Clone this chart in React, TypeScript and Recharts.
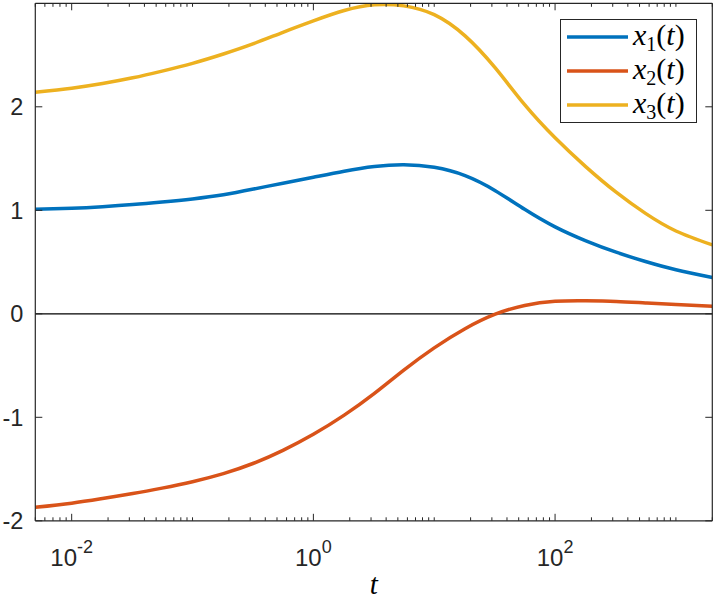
import React from 'react';
import { LineChart, Line, XAxis, YAxis, ReferenceLine, Legend } from 'recharts';

// sample times (about 4 per decade) and the three state curves
const tValues = [0.005, 0.01, 0.018, 0.032, 0.056, 0.1, 0.18, 0.32, 0.56, 1, 1.8, 3.2, 5.6, 10, 18, 32, 56, 100, 180, 320, 560, 1000, 2000];
const x1Values = [1.01, 1.02, 1.035, 1.055, 1.08, 1.11, 1.15, 1.205, 1.262, 1.32, 1.378, 1.423, 1.44, 1.415, 1.335, 1.19, 1.01, 0.84, 0.705, 0.595, 0.505, 0.425, 0.35];
const x2Values = [-1.87, -1.83, -1.785, -1.737, -1.684, -1.622, -1.544, -1.444, -1.319, -1.164, -0.979, -0.769, -0.544, -0.329, -0.144, -0.004, 0.081, 0.121, 0.126, 0.12, 0.105, 0.09, 0.073];
const x3Values = [2.14, 2.18, 2.225, 2.28, 2.345, 2.42, 2.51, 2.61, 2.72, 2.83, 2.93, 2.985, 2.975, 2.89, 2.685, 2.375, 2.02, 1.7, 1.42, 1.175, 0.97, 0.8, 0.665];

const seriesNames = ['x1', 'x2', 'x3'];
const seriesColors = ['#0072BD', '#D95319', '#EDB120'];

const xDomain = [0.005, 2000];
const xMajorTicks = [0.01, 1, 100];
const xMajorExponents = ['-2', '0', '2'];
const yDomain = [-2, 3];
const yTicks = [-2, -1, 0, 1, 2];
const yTickLabels = ['-2', '-1', '0', '1', '2'];

const data = tValues.map((t, i) => ({
  t,
  x1: x1Values[i],
  x2: x2Values[i],
  x3: x3Values[i],
}));

// minor log ticks k*10^e between the domain ends (skip labelled decades)
const minorTicks: number[] = [];
for (let e = -3; e <= 3; e++) {
  for (let k = 1; k <= 9; k++) {
    const v = Number((k * Math.pow(10, e)).toPrecision(3));
    if (v >= xDomain[0] && v <= xDomain[1] && !xMajorTicks.includes(v)) minorTicks.push(v);
  }
}
const xTicks = [...xMajorTicks, ...minorTicks].sort((a, b) => a - b);

const AXIS = '#262626';
const SANS = '"Liberation Sans", Arial, Helvetica, sans-serif';
const SERIF = '"Liberation Serif", "Times New Roman", serif';
const MAJOR_LEN = 7;
const MINOR_LEN = 3.5;

const isMajor = (v: number) => xMajorTicks.includes(v);

const BottomTick = (props: any) => {
  const { x, y, payload } = props;
  const idx = xMajorTicks.indexOf(payload.value);
  const len = idx >= 0 ? MAJOR_LEN : MINOR_LEN;
  return (
    <g>
      <line x1={x} x2={x} y1={y} y2={y - len} stroke={AXIS} strokeWidth={1} />
      {idx >= 0 && (
        <text x={x} y={y + 45} textAnchor="middle" fontFamily={SANS} fontSize={24} fill={AXIS}>
          <tspan>10</tspan>
          <tspan dy={-13} fontSize={18}>{xMajorExponents[idx]}</tspan>
        </text>
      )}
    </g>
  );
};

const TopTick = (props: any) => {
  const { x, y, payload } = props;
  const len = isMajor(payload.value) ? MAJOR_LEN : MINOR_LEN;
  return <line x1={x} x2={x} y1={y} y2={y + len} stroke={AXIS} strokeWidth={1} />;
};

const LeftTick = (props: any) => {
  const { x, y, payload } = props;
  const idx = yTicks.indexOf(payload.value);
  return (
    <g>
      <line x1={x} x2={x + MAJOR_LEN} y1={y} y2={y} stroke={AXIS} strokeWidth={1} />
      <text x={x - 12} y={y + 8.4} textAnchor="end" fontFamily={SANS} fontSize={23.5} fill={AXIS}>
        {yTickLabels[idx]}
      </text>
    </g>
  );
};

const RightTick = (props: any) => {
  const { x, y } = props;
  return <line x1={x} x2={x - MAJOR_LEN} y1={y} y2={y} stroke={AXIS} strokeWidth={1} />;
};

const renderLegend = (props: any) => {
  const { payload } = props;
  return (
    <div
      style={{
        boxSizing: 'border-box',
        width: 137,
        height: 104,
        border: `1px solid ${AXIS}`,
        background: '#fff',
      }}
    >
      {(payload || []).map((entry: any) => (
        <div key={entry.value} style={{ display: 'flex', alignItems: 'center', height: 34 }}>
          <svg width={68} height={34} style={{ flex: 'none' }}>
            <line x1={6} x2={67} y1={17} y2={17} stroke={entry.color} strokeWidth={3.5} />
          </svg>
          <span
            style={{
              marginLeft: 4,
              marginTop: -4,
              fontFamily: SERIF,
              fontSize: 30,
              lineHeight: 1,
              color: '#000',
              whiteSpace: 'nowrap',
            }}
          >
            <i>{String(entry.value).charAt(0)}</i>
            <span style={{ fontSize: 20, position: 'relative', top: 6 }}>{String(entry.value).slice(1)}</span>
            (<i>t</i>)
          </span>
        </div>
      ))}
    </div>
  );
};

const App: React.FC = () => {
  return (
    <div style={{ position: 'absolute', left: 0, top: 0, background: '#fff' }}>
      <LineChart width={714} height={601} data={data} margin={{ top: 2.3, right: 0, bottom: 0, left: 0 }}>
        <XAxis
          xAxisId="bottom"
          dataKey="t"
          type="number"
          scale="log"
          domain={xDomain}
          allowDataOverflow
          ticks={xTicks}
          interval={0}
          height={80.2}
          tickSize={0}
          tickMargin={0}
          tickLine={false}
          axisLine={{ stroke: AXIS, strokeWidth: 1.2 }}
          tick={BottomTick}
          label={{
            value: 't',
            position: 'insideBottom',
            offset: 7,
            style: { fontFamily: SERIF, fontStyle: 'italic', fontSize: 29, fill: '#000' },
          }}
        />
        <XAxis
          xAxisId="top"
          orientation="top"
          dataKey="t"
          type="number"
          scale="log"
          domain={xDomain}
          allowDataOverflow
          ticks={xTicks}
          interval={0}
          height={1}
          tickSize={0}
          tickMargin={0}
          tickLine={false}
          axisLine={{ stroke: AXIS, strokeWidth: 1.2 }}
          tick={TopTick}
        />
        <YAxis
          yAxisId="left"
          type="number"
          domain={yDomain}
          allowDataOverflow
          ticks={yTicks}
          interval={0}
          width={35.3}
          tickSize={0}
          tickMargin={0}
          tickLine={false}
          axisLine={{ stroke: AXIS, strokeWidth: 1.2 }}
          tick={LeftTick}
        />
        <YAxis
          yAxisId="right"
          orientation="right"
          type="number"
          domain={yDomain}
          allowDataOverflow
          ticks={yTicks}
          interval={0}
          width={1.7}
          tickSize={0}
          tickMargin={0}
          tickLine={false}
          axisLine={{ stroke: AXIS, strokeWidth: 1.2 }}
          tick={RightTick}
        />
        <ReferenceLine xAxisId="bottom" yAxisId="left" y={0} stroke="#000" strokeWidth={1.2} />
        {seriesNames.map((name, i) => (
          <Line
            key={name}
            xAxisId="bottom"
            yAxisId="left"
            type="natural"
            dataKey={name}
            name={name}
            stroke={seriesColors[i]}
            strokeWidth={3.5}
            dot={false}
            activeDot={false}
            isAnimationActive={false}
          />
        ))}
        <Legend
          layout="vertical"
          align="center"
          verticalAlign="middle"
          wrapperStyle={{ left: 560, top: 19.3, width: 137, height: 104 }}
          content={renderLegend}
        />
      </LineChart>
    </div>
  );
};

export default App;
